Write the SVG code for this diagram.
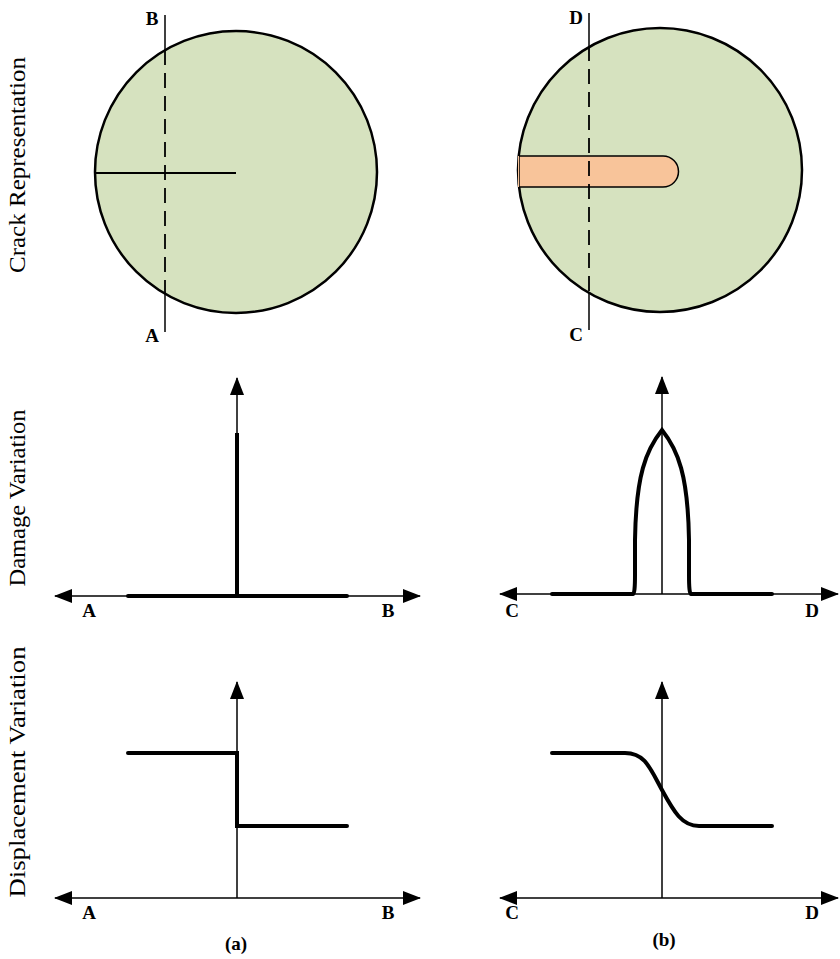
<svg xmlns="http://www.w3.org/2000/svg" width="840" height="959" viewBox="0 0 840 959">
<style>
.lbl{font-family:"Liberation Serif","Times New Roman",serif;font-weight:bold;font-size:19px;fill:#000;text-anchor:middle}
.side{font-family:"Liberation Serif","Times New Roman",serif;font-size:24px;fill:#000;text-anchor:middle}
.circ{fill:#d6e2bf;stroke:#000;stroke-width:2.5}
.thin{stroke:#000;stroke-width:1.5;fill:none}
.thick{stroke:#000;stroke-width:4;fill:none;stroke-linecap:round}
.dash{stroke:#000;stroke-width:1.8;stroke-dasharray:15,8;fill:none}
.ax{stroke:#000;stroke-width:1.5;fill:none;marker-end:url(#ah)}
</style>
<defs>
<marker id="ah" viewBox="0 0 18 14" refX="17" refY="7" markerWidth="18" markerHeight="14" markerUnits="userSpaceOnUse" orient="auto">
<path d="M0,0 L18,7 L0,14 Z" fill="#000"/>
</marker>
</defs>
<rect width="840" height="959" fill="#fff"/>

<g id="side-labels">
<text class="side" transform="translate(25,165) rotate(-90)" textLength="216" lengthAdjust="spacingAndGlyphs">Crack Representation</text>
<text class="side" transform="translate(25,498) rotate(-90)" textLength="177" lengthAdjust="spacingAndGlyphs">Damage Variation</text>
<text class="side" transform="translate(25,772) rotate(-90)" textLength="251" lengthAdjust="spacingAndGlyphs">Displacement Variation</text>
</g>

<g id="crack-a">
<circle class="circ" cx="236" cy="172" r="141"/>
<line x1="95" y1="173" x2="236" y2="173" stroke="#000" stroke-width="2"/>
<line class="thin" x1="165" y1="15" x2="165" y2="50"/>
<line class="dash" x1="165" y1="50" x2="165" y2="294"/>
<line class="thin" x1="165" y1="294" x2="165" y2="332"/>
<text class="lbl" x="152" y="25">B</text>
<text class="lbl" x="152" y="342">A</text>
</g>

<g id="crack-b">
<circle class="circ" cx="660" cy="170" r="142"/>
<path d="M519,156 L663,156 A15.5,15.5 0 0 1 663,187 L519,187 Z" fill="#f8c49a" stroke="#000" stroke-width="1.5"/>
<path d="M518.5,156 L518.5,187" stroke="#f8c49a" stroke-width="1"/>
<line class="thin" x1="589" y1="13" x2="589" y2="46"/>
<line class="dash" x1="589" y1="46" x2="589" y2="292"/>
<line class="thin" x1="589" y1="292" x2="589" y2="330"/>
<text class="lbl" x="576" y="24">D</text>
<text class="lbl" x="576" y="341">C</text>
</g>

<g id="connectors">
<line class="ax" x1="237" y1="596" x2="55" y2="596"/>
<line class="ax" x1="237" y1="596" x2="420" y2="596"/>
<line class="ax" x1="237" y1="596" x2="237" y2="378"/>
<line class="ax" x1="662" y1="594" x2="500" y2="594"/>
<line class="ax" x1="662" y1="594" x2="838" y2="594"/>
<line class="ax" x1="662" y1="594" x2="662" y2="377"/>
<line class="ax" x1="237" y1="898" x2="55" y2="898"/>
<line class="ax" x1="237" y1="898" x2="420" y2="898"/>
<line class="ax" x1="237" y1="898" x2="237" y2="682"/>
<line class="ax" x1="662" y1="898" x2="500" y2="898"/>
<line class="ax" x1="662" y1="898" x2="838" y2="898"/>
<line class="ax" x1="662" y1="898" x2="662" y2="682"/>
</g>

<g id="damage-a">
<line class="thick" x1="128" y1="596" x2="347" y2="596"/>
<line class="thick" x1="237" y1="596" x2="237" y2="433" style="stroke-linecap:butt"/>
<text class="lbl" x="89" y="617">A</text>
<text class="lbl" x="388" y="617">B</text>
</g>

<g id="damage-b">
<path class="thick" d="M552,594 L633,594 Q635,594 635,575 L635,540 C636,475 646,450 662,430 C678,450 688,475 689,540 L689,575 Q689,594 691,594 L772,594"/>
<text class="lbl" x="512" y="617">C</text>
<text class="lbl" x="812" y="617">D</text>
</g>

<g id="disp-a">
<path class="thick" d="M128,753 L237,753 L237,826 L347,826" style="stroke-linejoin:miter"/>
<text class="lbl" x="89" y="919">A</text>
<text class="lbl" x="388" y="919">B</text>
<text class="lbl" x="236" y="950">(a)</text>
</g>

<g id="disp-b">
<path class="thick" d="M552,753 L625,753 C645,753 650,768 662,790 C674,812 682,826 699,826 L772,826"/>
<text class="lbl" x="512" y="919">C</text>
<text class="lbl" x="812" y="919">D</text>
<text class="lbl" x="664" y="946">(b)</text>
</g>
</svg>
